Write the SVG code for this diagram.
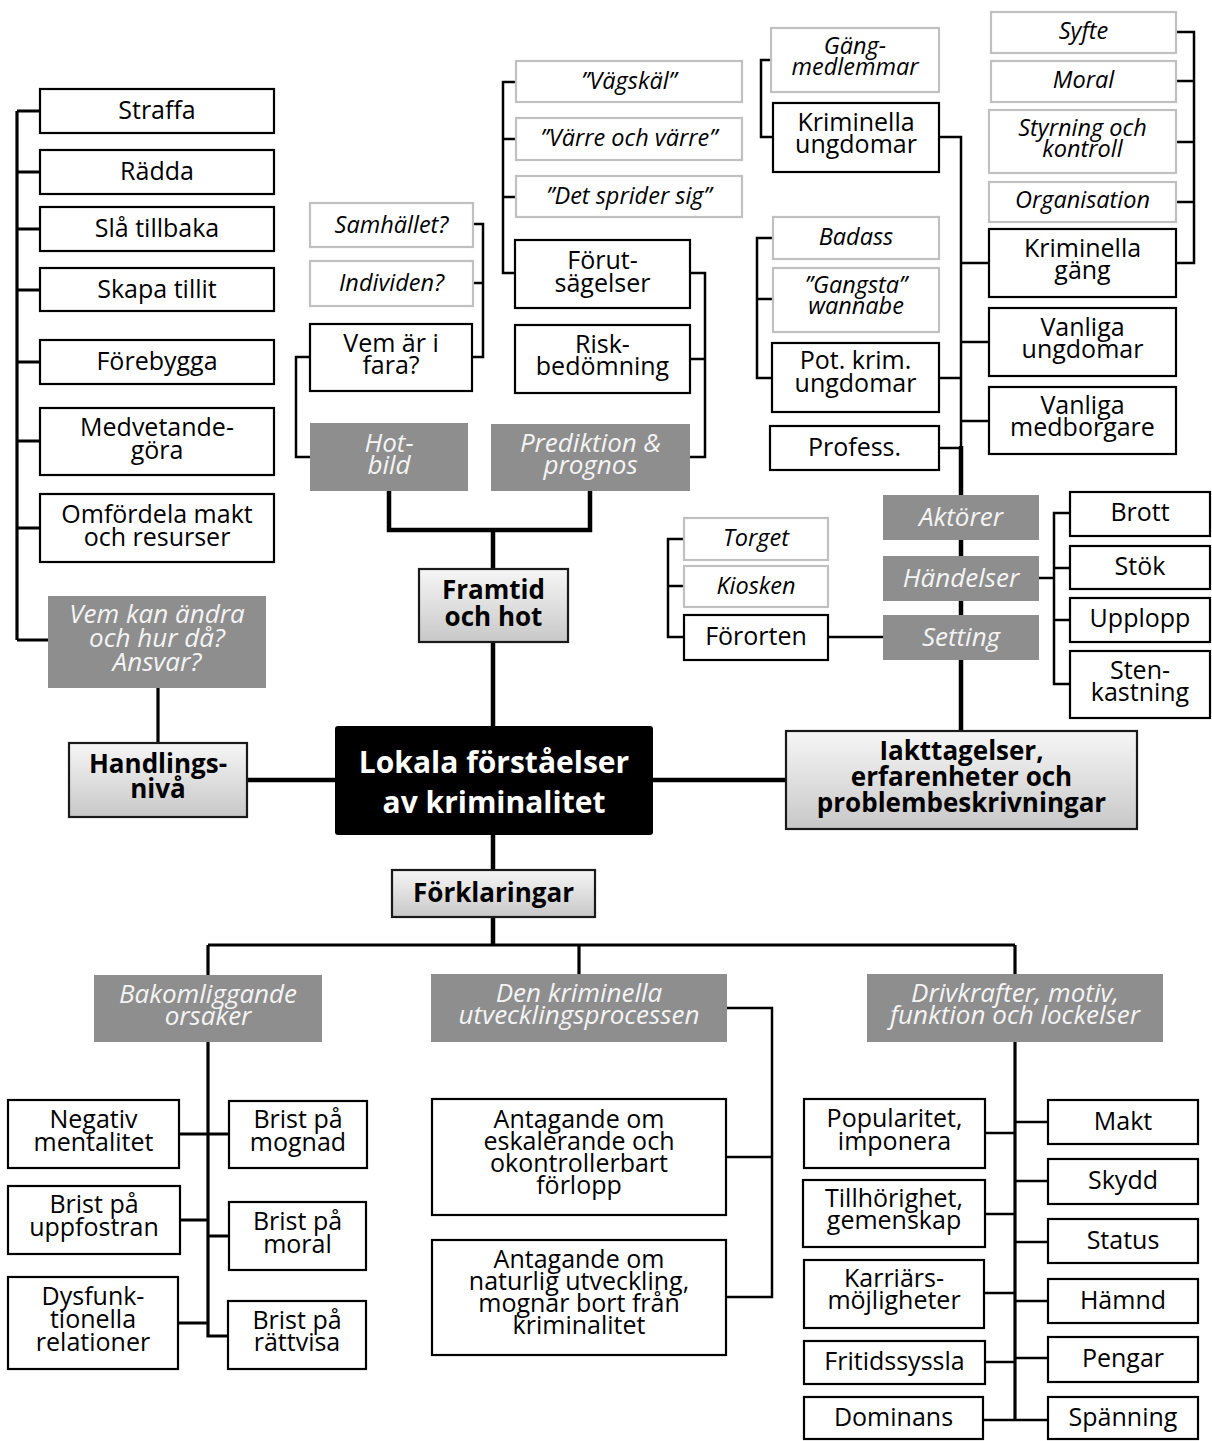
<svg xmlns="http://www.w3.org/2000/svg" width="1212" height="1441" viewBox="0 0 1212 1441">
<defs>
<linearGradient id="gr" x1="0" y1="0" x2="0" y2="1">
<stop offset="0" stop-color="#f6f6f6"/>
<stop offset="1" stop-color="#c8c8c8"/>
</linearGradient>
<style>
.n{fill:#fff;stroke:#000;stroke-width:2.2}
.l{fill:#fff;stroke:#c0c0c0;stroke-width:2.2}
.g{fill:#8e8e8e;stroke:none}
.h{fill:url(#gr);stroke:#1a1a1a;stroke-width:2.2}
.c{fill:#000;stroke:none}
text{font-family:"Open Sans","DejaVu Sans",sans-serif;text-anchor:middle}
.t{font-size:25px;fill:#000}
.ti{font-size:23.5px;font-style:italic;fill:#000}
.tg{font-size:26px;font-style:italic;fill:#f4f4f4}
.tb{font-size:26px;font-weight:bold;fill:#000}
.tc{font-size:30px;font-weight:bold;fill:#fff}
.k1{fill:none;stroke:#000;stroke-width:2.5}
.k2{fill:none;stroke:#000;stroke-width:3.2}
.k3{fill:none;stroke:#000;stroke-width:4.5}
</style>
</defs>
<rect width="1212" height="1441" fill="#fff"/>
<g id="connectors">
<path class="k2" d="M17,111V640M17,111H40M17,172H40M17,229H40M17,290H40M17,362H40M17,441H40M17,528H40M17,640H48"/>
<path class="k2" d="M158,688V743"/>
<path class="k3" d="M247,780H335M653,780H786"/>
<path class="k3" d="M493,726V642M493,569V530"/>
<path class="k3" d="M389,491V530H590V491"/>
<path class="k1" d="M310,457H296V357H310M472,224H483V357H472M473,283H483"/>
<path class="k1" d="M516,82H503V273H515M503,139H516M503,197H516"/>
<path class="k1" d="M690,273H705V457H690M690,359H705"/>
<path class="k1" d="M771,60H761V137H773"/>
<path class="k1" d="M939,137H961V448"/>
<path class="k3" d="M961,446V731"/>
<path class="k1" d="M773,238H757V378H772M757,299H773M939,378H961M939,448H961"/>
<path class="k1" d="M1176,32H1194V263H1176M1176,81H1194M1176,142H1194M1176,202H1194"/>
<path class="k1" d="M961,263H989M961,342H989M961,421H989"/>
<path class="k1" d="M1039,578H1054M1070,513H1054V684H1070M1054,568H1070M1054,620H1070"/>
<path class="k1" d="M684,539H668V637H684M668,586H684M828,637H883"/>
<path class="k3" d="M493,835V870M493,917V945"/>
<path class="k2" d="M208,945H1015M208,945V975M579,945V974M1015,945V974"/>
<path class="k2" d="M208,1042V1336H228M179,1134H229M180,1220H208M208,1236H229M178,1323H208"/>
<path class="k1" d="M727,1008H772V1297H726M726,1157H772"/>
<path class="k2" d="M1015,1042V1420"/>
<path class="k1" d="M985,1133H1015M985,1214H1015M984,1293H1015M985,1362H1015M983,1420H1015"/>
<path class="k1" d="M1015,1122H1048M1015,1181H1048M1015,1242H1048M1015,1301H1048M1015,1358H1048M1015,1420H1048"/>
</g>
<g id="straffa"><rect class="n" x="40" y="89" width="234" height="44"/><text class="t" x="157" y="119">Straffa</text></g>
<g id="radda"><rect class="n" x="40" y="150" width="234" height="44"/><text class="t" x="157" y="180">Rädda</text></g>
<g id="sla-tillbaka"><rect class="n" x="40" y="207" width="234" height="44"/><text class="t" x="157" y="237">Slå tillbaka</text></g>
<g id="skapa-tillit"><rect class="n" x="40" y="268" width="234" height="43"/><text class="t" x="157" y="298">Skapa tillit</text></g>
<g id="forebygga"><rect class="n" x="40" y="340" width="234" height="44"/><text class="t" x="157" y="370">Förebygga</text></g>
<g id="medvetandegora"><rect class="n" x="40" y="408" width="234" height="67"/><text class="t"><tspan x="157" y="436">Medvetande-</tspan><tspan x="157" y="459">göra</tspan></text></g>
<g id="omfordela"><rect class="n" x="40" y="494" width="234" height="68"/><text class="t"><tspan x="157" y="523">Omfördela makt</tspan><tspan x="157" y="546">och resurser</tspan></text></g>
<g id="ansvar"><rect class="g" x="48" y="596" width="218" height="92"/><text class="tg"><tspan x="157" y="623">Vem kan ändra</tspan><tspan x="157" y="647">och hur då?</tspan><tspan x="157" y="671">Ansvar?</tspan></text></g>
<g id="handlingsniva"><rect class="h" x="69" y="743" width="178" height="74"/><text class="tb"><tspan x="158" y="773">Handlings-</tspan><tspan x="158" y="798">nivå</tspan></text></g>
<g id="center"><rect class="c" x="335" y="726" width="318" height="109" rx="3"/><text class="tc"><tspan x="494" y="773">Lokala förståelser</tspan><tspan x="494" y="813">av kriminalitet</tspan></text></g>
<g id="framtid"><rect class="h" x="419" y="569" width="149" height="73"/><text class="tb"><tspan x="493.5" y="599">Framtid</tspan><tspan x="493.5" y="626">och hot</tspan></text></g>
<g id="hotbild"><rect class="g" x="310" y="423" width="158" height="68"/><text class="tg"><tspan x="389" y="452">Hot-</tspan><tspan x="389" y="474">bild</tspan></text></g>
<g id="prediktion"><rect class="g" x="491" y="424" width="199" height="67"/><text class="tg"><tspan x="590.5" y="452">Prediktion &amp;</tspan><tspan x="590.5" y="474">prognos</tspan></text></g>
<g id="vem-ar-i-fara"><rect class="n" x="310" y="324" width="162" height="67"/><text class="t"><tspan x="391" y="352">Vem är i</tspan><tspan x="391" y="374">fara?</tspan></text></g>
<g id="samhallet"><rect class="l" x="310" y="203" width="163" height="44"/><text class="ti" x="391.5" y="233">Samhället?</text></g>
<g id="individen"><rect class="l" x="310" y="261" width="163" height="45"/><text class="ti" x="391.5" y="291">Individen?</text></g>
<g id="forutsagelser"><rect class="n" x="515" y="240" width="175" height="68"/><text class="t"><tspan x="602.5" y="269">Förut-</tspan><tspan x="602.5" y="292">sägelser</tspan></text></g>
<g id="riskbedomning"><rect class="n" x="515" y="325" width="175" height="68"/><text class="t"><tspan x="602.5" y="353">Risk-</tspan><tspan x="602.5" y="375">bedömning</tspan></text></g>
<g id="vagskal"><rect class="l" x="516" y="61" width="226" height="41"/><text class="ti" x="629" y="89">”Vägskäl”</text></g>
<g id="varre"><rect class="l" x="516" y="118" width="226" height="42"/><text class="ti" x="629" y="146">”Värre och värre”</text></g>
<g id="det-sprider"><rect class="l" x="516" y="176" width="226" height="41"/><text class="ti" x="629" y="204">”Det sprider sig”</text></g>
<g id="gangmedlemmar"><rect class="l" x="771" y="28" width="168" height="64"/><text class="ti"><tspan x="855" y="54">Gäng-</tspan><tspan x="855" y="75">medlemmar</tspan></text></g>
<g id="krim-ungdomar"><rect class="n" x="773" y="103" width="166" height="69"/><text class="t"><tspan x="856" y="131">Kriminella</tspan><tspan x="856" y="153">ungdomar</tspan></text></g>
<g id="badass"><rect class="l" x="773" y="217" width="166" height="42"/><text class="ti" x="856" y="245">Badass</text></g>
<g id="gangsta"><rect class="l" x="773" y="268" width="166" height="64"/><text class="ti"><tspan x="856" y="293">”Gangsta”</tspan><tspan x="856" y="314">wannabe</tspan></text></g>
<g id="pot-krim"><rect class="n" x="772" y="343" width="167" height="69"/><text class="t"><tspan x="855.5" y="369">Pot. krim.</tspan><tspan x="855.5" y="392">ungdomar</tspan></text></g>
<g id="profess"><rect class="n" x="770" y="426" width="169" height="44"/><text class="t" x="854.5" y="456">Profess.</text></g>
<g id="syfte"><rect class="l" x="991" y="12" width="185" height="41"/><text class="ti" x="1083.5" y="39">Syfte</text></g>
<g id="moral"><rect class="l" x="991" y="61" width="185" height="41"/><text class="ti" x="1083.5" y="88">Moral</text></g>
<g id="styrning"><rect class="l" x="989" y="110" width="187" height="63"/><text class="ti"><tspan x="1082.5" y="136">Styrning och</tspan><tspan x="1082.5" y="157">kontroll</tspan></text></g>
<g id="organisation"><rect class="l" x="989" y="182" width="187" height="40"/><text class="ti" x="1082.5" y="208">Organisation</text></g>
<g id="krim-gang"><rect class="n" x="989" y="229" width="187" height="68"/><text class="t"><tspan x="1082.5" y="257">Kriminella</tspan><tspan x="1082.5" y="279">gäng</tspan></text></g>
<g id="vanliga-ungdomar"><rect class="n" x="989" y="308" width="187" height="68"/><text class="t"><tspan x="1082.5" y="336">Vanliga</tspan><tspan x="1082.5" y="358">ungdomar</tspan></text></g>
<g id="vanliga-medborgare"><rect class="n" x="989" y="387" width="187" height="67"/><text class="t"><tspan x="1082.5" y="414">Vanliga</tspan><tspan x="1082.5" y="436">medborgare</tspan></text></g>
<g id="aktorer"><rect class="g" x="883" y="495" width="156" height="45"/><text class="tg" x="961" y="526">Aktörer</text></g>
<g id="handelser"><rect class="g" x="883" y="556" width="156" height="45"/><text class="tg" x="961" y="587">Händelser</text></g>
<g id="setting"><rect class="g" x="883" y="615" width="156" height="45"/><text class="tg" x="961" y="646">Setting</text></g>
<g id="brott"><rect class="n" x="1070" y="492" width="140" height="44"/><text class="t" x="1140" y="521">Brott</text></g>
<g id="stok"><rect class="n" x="1070" y="546" width="140" height="43"/><text class="t" x="1140" y="575">Stök</text></g>
<g id="upplopp"><rect class="n" x="1070" y="598" width="140" height="44"/><text class="t" x="1140" y="627">Upplopp</text></g>
<g id="stenkastning"><rect class="n" x="1070" y="651" width="140" height="67"/><text class="t"><tspan x="1140" y="679">Sten-</tspan><tspan x="1140" y="701">kastning</tspan></text></g>
<g id="torget"><rect class="l" x="684" y="518" width="144" height="42"/><text class="ti" x="756" y="546">Torget</text></g>
<g id="kiosken"><rect class="l" x="684" y="566" width="144" height="41"/><text class="ti" x="756" y="594">Kiosken</text></g>
<g id="fororten"><rect class="n" x="684" y="615" width="144" height="45"/><text class="t" x="756" y="645">Förorten</text></g>
<g id="iakttagelser"><rect class="h" x="786" y="731" width="351" height="98"/><text class="tb"><tspan x="961.5" y="760">Iakttagelser,</tspan><tspan x="961.5" y="786">erfarenheter och</tspan><tspan x="961.5" y="812">problembeskrivningar</tspan></text></g>
<g id="forklaringar"><rect class="h" x="392" y="870" width="203" height="47"/><text class="tb" x="493.5" y="902">Förklaringar</text></g>
<g id="bakomliggande"><rect class="g" x="94" y="975" width="228" height="67"/><text class="tg"><tspan x="208" y="1003">Bakomliggande</tspan><tspan x="208" y="1025">orsaker</tspan></text></g>
<g id="den-kriminella"><rect class="g" x="431" y="974" width="296" height="68"/><text class="tg"><tspan x="579" y="1002">Den kriminella</tspan><tspan x="579" y="1024">utvecklingsprocessen</tspan></text></g>
<g id="drivkrafter"><rect class="g" x="867" y="974" width="296" height="68"/><text class="tg"><tspan x="1015" y="1002">Drivkrafter, motiv,</tspan><tspan x="1015" y="1024">funktion och lockelser</tspan></text></g>
<g id="negativ"><rect class="n" x="8" y="1100" width="171" height="68"/><text class="t"><tspan x="93.5" y="1128">Negativ</tspan><tspan x="93.5" y="1151">mentalitet</tspan></text></g>
<g id="mognad"><rect class="n" x="229" y="1101" width="138" height="67"/><text class="t"><tspan x="298" y="1128">Brist på</tspan><tspan x="298" y="1151">mognad</tspan></text></g>
<g id="uppfostran"><rect class="n" x="8" y="1186" width="172" height="68"/><text class="t"><tspan x="94" y="1213">Brist på</tspan><tspan x="94" y="1236">uppfostran</tspan></text></g>
<g id="moral2"><rect class="n" x="229" y="1202" width="137" height="68"/><text class="t"><tspan x="297.5" y="1230">Brist på</tspan><tspan x="297.5" y="1253">moral</tspan></text></g>
<g id="dysfunktionella"><rect class="n" x="8" y="1277" width="170" height="92"/><text class="t"><tspan x="93" y="1305">Dysfunk-</tspan><tspan x="93" y="1328">tionella</tspan><tspan x="93" y="1351">relationer</tspan></text></g>
<g id="rattvisa"><rect class="n" x="228" y="1301" width="138" height="68"/><text class="t"><tspan x="297" y="1329">Brist på</tspan><tspan x="297" y="1351">rättvisa</tspan></text></g>
<g id="antagande1"><rect class="n" x="432" y="1099" width="294" height="116"/><text class="t"><tspan x="579" y="1128">Antagande om</tspan><tspan x="579" y="1150">eskalerande och</tspan><tspan x="579" y="1172">okontrollerbart</tspan><tspan x="579" y="1194">förlopp</tspan></text></g>
<g id="antagande2"><rect class="n" x="432" y="1240" width="294" height="115"/><text class="t"><tspan x="579" y="1268">Antagande om</tspan><tspan x="579" y="1290">naturlig utveckling,</tspan><tspan x="579" y="1312">mognar bort från</tspan><tspan x="579" y="1334">kriminalitet</tspan></text></g>
<g id="popularitet"><rect class="n" x="804" y="1099" width="181" height="69"/><text class="t"><tspan x="894.5" y="1127">Popularitet,</tspan><tspan x="894.5" y="1150">imponera</tspan></text></g>
<g id="tillhorighet"><rect class="n" x="803" y="1180" width="182" height="67"/><text class="t"><tspan x="894" y="1207">Tillhörighet,</tspan><tspan x="894" y="1229">gemenskap</tspan></text></g>
<g id="karriar"><rect class="n" x="804" y="1260" width="180" height="68"/><text class="t"><tspan x="894" y="1287">Karriärs-</tspan><tspan x="894" y="1309">möjligheter</tspan></text></g>
<g id="fritid"><rect class="n" x="804" y="1341" width="181" height="43"/><text class="t" x="894.5" y="1370">Fritidssyssla</text></g>
<g id="dominans"><rect class="n" x="804" y="1397" width="179" height="42"/><text class="t" x="893.5" y="1426">Dominans</text></g>
<g id="makt"><rect class="n" x="1048" y="1100" width="150" height="44"/><text class="t" x="1123" y="1130">Makt</text></g>
<g id="skydd"><rect class="n" x="1048" y="1159" width="150" height="45"/><text class="t" x="1123" y="1189">Skydd</text></g>
<g id="status"><rect class="n" x="1048" y="1219" width="150" height="44"/><text class="t" x="1123" y="1249">Status</text></g>
<g id="hamnd"><rect class="n" x="1048" y="1279" width="150" height="44"/><text class="t" x="1123" y="1309">Hämnd</text></g>
<g id="pengar"><rect class="n" x="1048" y="1337" width="150" height="45"/><text class="t" x="1123" y="1367">Pengar</text></g>
<g id="spanning"><rect class="n" x="1048" y="1397" width="150" height="42"/><text class="t" x="1123" y="1426">Spänning</text></g>
</svg>
